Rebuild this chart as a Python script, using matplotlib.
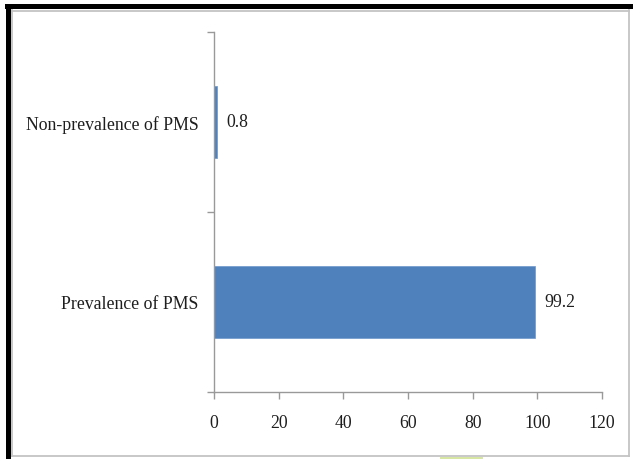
import matplotlib

matplotlib.use("Agg")
import matplotlib.pyplot as plt
from matplotlib.patches import Rectangle
from matplotlib.lines import Line2D

categories = ["Prevalence of PMS", "Non-prevalence of PMS"]
percentages = [99.2, 0.8]
x_ticks = [0, 20, 40, 60, 80, 100, 120]

W, H = 633, 460
plt.rcParams["font.family"] = ["Liberation Serif", "DejaVu Serif"]

fig = plt.figure(figsize=(W / 100, H / 100), dpi=100)
fig.patch.set_facecolor("white")


def fx(px):
    return px / W


def fy(py):
    return 1 - py / H


# frame around the chart: heavy black on top/left, thin grey inner lines
fig.add_artist(Rectangle((fx(5), fy(10)), fx(628), 5 / H, transform=fig.transFigure,
                         facecolor="black", edgecolor="none"))
fig.add_artist(Rectangle((fx(6), 0), 5 / W, fy(5), transform=fig.transFigure,
                         facecolor="black", edgecolor="none"))
grey = "#c4c4c4"
for xs, ys in [((12, 629), (11.5, 11.5)), ((12, 12), (11, 457)),
               ((629, 629), (11, 457)), ((12, 629), (457, 457))]:
    fig.add_artist(Line2D([fx(xs[0]), fx(xs[1])], [fy(ys[0]), fy(ys[1])],
                          transform=fig.transFigure, color=grey, lw=1.3))
fig.add_artist(Rectangle((fx(440), 0), 43 / W, 2.5 / H, transform=fig.transFigure,
                         facecolor="#d8e6a4", edgecolor="none"))

ax = fig.add_axes([fx(214), fy(393), fx(602) - fx(214), fy(33) - fy(393)])
ypos = list(range(len(categories)))
ax.barh(ypos, percentages, height=0.4, color="#4f81bd", edgecolor="#6f98cc", linewidth=0.5)

fs = 12.8
txt = "#1e1e1e"
for y, v in zip(ypos, percentages):
    ax.annotate(f"{v:g}", (v, y), xytext=(7, 0), textcoords="offset points",
                va="center", ha="left", fontsize=fs, color=txt)

ax.set_xlim(0, 120)
ax.set_ylim(-0.5, 1.5)
ax.set_xticks(x_ticks)
ax.set_xticklabels([str(t) for t in x_ticks])
ax.set_yticks(ypos)
ax.set_yticklabels(categories)
ax.set_yticks([-0.5, 0.5, 1.5], minor=True)

axis_grey = "#999999"
for side in ["top", "right"]:
    ax.spines[side].set_visible(False)
for side in ["left", "bottom"]:
    ax.spines[side].set_color(axis_grey)
    ax.spines[side].set_linewidth(1.0)

ax.tick_params(axis="y", which="major", length=0, pad=11, labelsize=fs, labelcolor=txt)
ax.tick_params(axis="y", which="minor", length=5, color=axis_grey, width=1.0)
ax.tick_params(axis="x", length=5, color=axis_grey, width=1.0, pad=11,
               labelsize=fs, labelcolor=txt)

fig.savefig("out.png", dpi=100)
